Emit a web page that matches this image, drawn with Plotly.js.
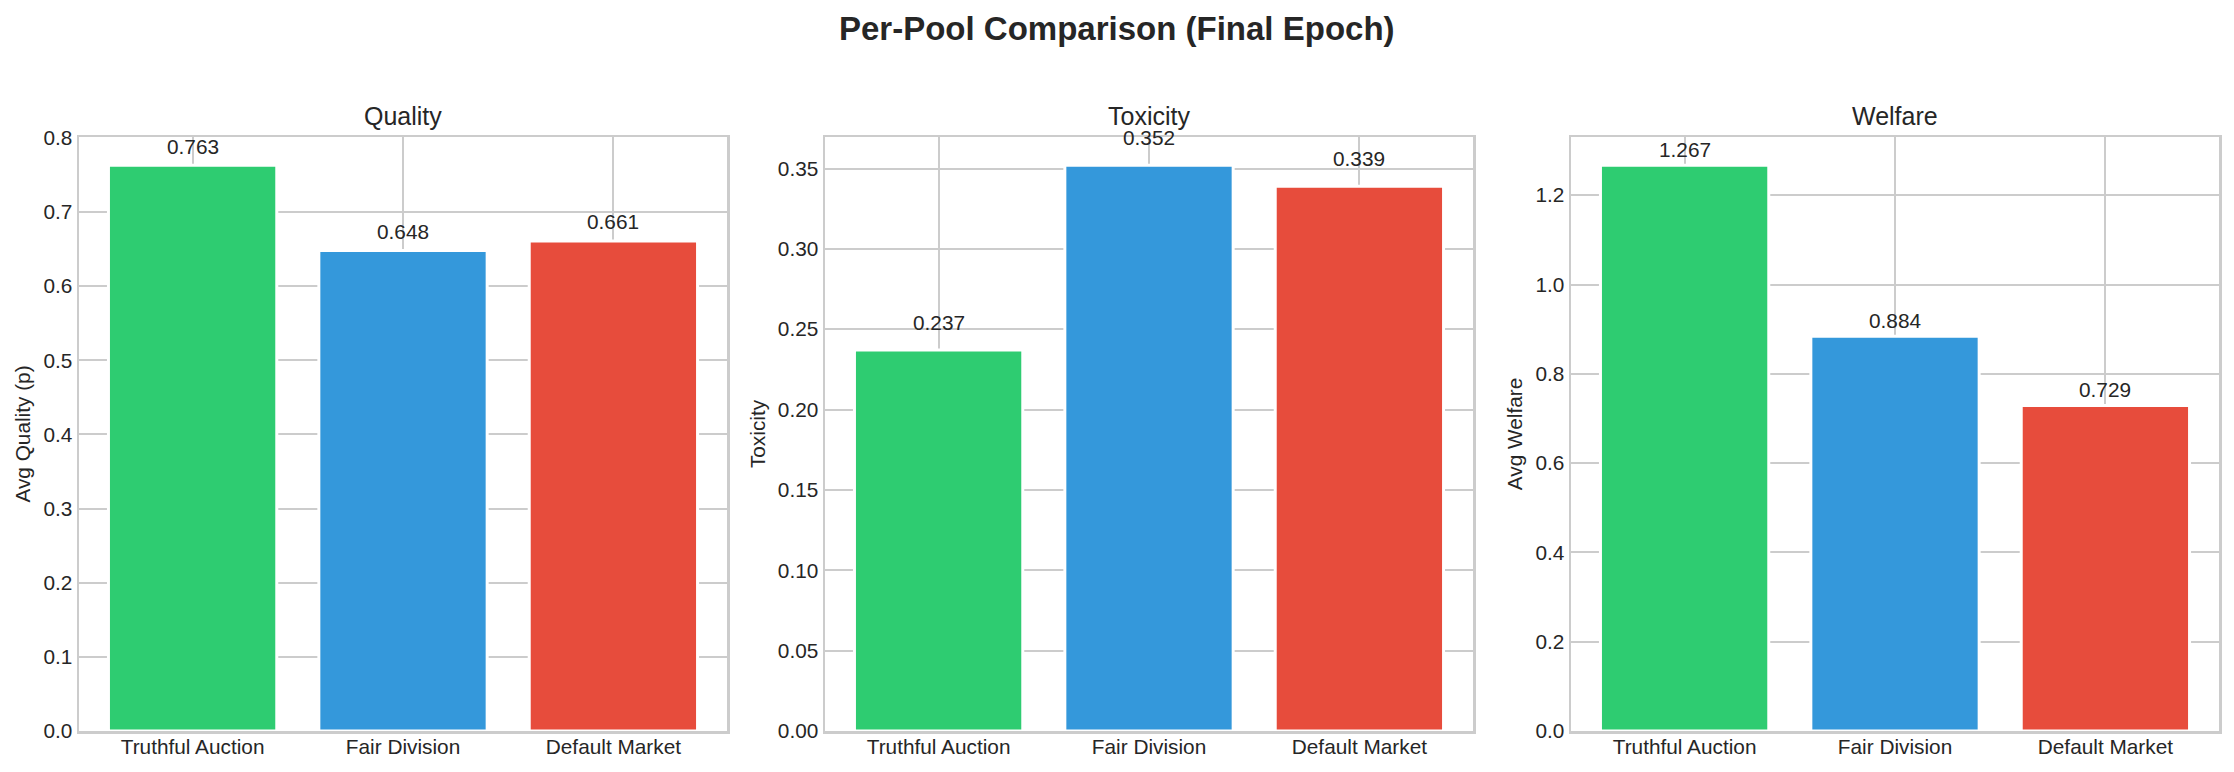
<!DOCTYPE html>
<html>
<head>
<meta charset="utf-8">
<script src="https://cdn.plot.ly/plotly-3.0.1.min.js"></script>
<style>
  html, body { margin: 0; padding: 0; background: #fff; }
  #graph { width: 2234px; height: 772px; }
</style>
</head>
<body>
<div id="graph"></div>
<script>
// pools and colours
var pools = ["Truthful Auction", "Fair Division", "Default Market"];
var poolColors = ["#2ecc71", "#3498db", "#e74c3c"];

// final epoch values per pool
var quality = [0.763, 0.648, 0.661];
var toxicity = [0.237, 0.352, 0.339];
var welfare = [1.267, 0.884, 0.729];

var panelTitles = ["Quality", "Toxicity", "Welfare"];
var yLabels = ["Avg Quality (p)", "Toxicity", "Avg Welfare"];
var yDticks = [0.1, 0.05, 0.2];
var yFormats = [".1f", ".2f", ".1f"];

var FONT = "Liberation Sans, Arial, Helvetica, sans-serif";
var TXT = "#262626";
var GRID = "#cccccc";

var W = 2234, H = 772;
var panelsX = [[79, 727], [825, 1473], [1571, 2219]];
var top_px = 137, bottom_px = 731;

var series = [quality, toxicity, welfare];
var plot_data = [];
var annotations = [];
var layout = {
    width: W,
    height: H,
    margin: {l: 0, r: 0, t: 0, b: 0},
    paper_bgcolor: "white",
    plot_bgcolor: "white",
    showlegend: false,
    bargap: 0.2,
    font: {family: FONT, size: 20.8, color: TXT}
};

for (var i = 0; i < 3; i++) {
    var suffix = i === 0 ? "" : String(i + 1);
    var vals = series[i];
    plot_data.push({
        type: "bar",
        x: pools,
        y: vals,
        xaxis: "x" + suffix,
        yaxis: "y" + suffix,
        marker: {color: poolColors, line: {color: "white", width: 3}},
        hoverinfo: "x+y"
    });

    var ymax = Math.max.apply(null, vals) * 1.05;
    layout["xaxis" + suffix] = {
        domain: [panelsX[i][0] / W, panelsX[i][1] / W],
        anchor: "y" + suffix,
        type: "category",
        range: [-0.54, 2.54],
        showgrid: true,
        gridcolor: GRID,
        gridwidth: 2,
        showline: true,
        mirror: true,
        linecolor: GRID,
        linewidth: 2.5,
        ticks: "",
        ticklabelstandoff: -4,
        tickfont: {family: FONT, size: 20.8, color: TXT},
        zeroline: false,
        automargin: false,
        fixedrange: true
    };
    layout["yaxis" + suffix] = {
        domain: [(H - bottom_px) / H, (H - top_px) / H],
        anchor: "x" + suffix,
        range: [0, ymax],
        dtick: yDticks[i],
        tick0: 0,
        tickformat: yFormats[i],
        showgrid: true,
        gridcolor: GRID,
        gridwidth: 2,
        showline: true,
        mirror: true,
        linecolor: GRID,
        linewidth: 2.5,
        ticks: "",
        ticklabelstandoff: 0,
        tickfont: {family: FONT, size: 20.8, color: TXT},
        zeroline: false,
        automargin: false,
        fixedrange: true,
        title: {
            text: yLabels[i],
            standoff: 7,
            font: {family: FONT, size: 20.8, color: TXT}
        }
    };

    // panel title
    annotations.push({
        xref: "paper", yref: "paper",
        x: (panelsX[i][0] + panelsX[i][1]) / 2 / W,
        y: (H - 116) / H,
        xanchor: "center", yanchor: "middle",
        text: panelTitles[i],
        showarrow: false,
        font: {family: FONT, size: 25, color: TXT}
    });

    // value labels, 0.01 above each bar
    for (var j = 0; j < pools.length; j++) {
        annotations.push({
            xref: "x" + suffix, yref: "y" + suffix,
            x: pools[j], y: vals[j] + 0.01,
            xanchor: "center", yanchor: "bottom",
            yshift: -2,
            text: vals[j].toFixed(3),
            showarrow: false,
            font: {family: FONT, size: 20.8, color: TXT}
        });
    }
}

// figure title
annotations.push({
    xref: "paper", yref: "paper",
    x: 0.5, y: (H - 28) / H,
    xanchor: "center", yanchor: "middle",
    text: "<b>Per-Pool Comparison (Final Epoch)</b>",
    showarrow: false,
    font: {family: FONT, size: 33, color: TXT}
});

layout.annotations = annotations;

Plotly.newPlot("graph", plot_data, layout, {displayModeBar: false, staticPlot: true});
</script>
</body>
</html>
